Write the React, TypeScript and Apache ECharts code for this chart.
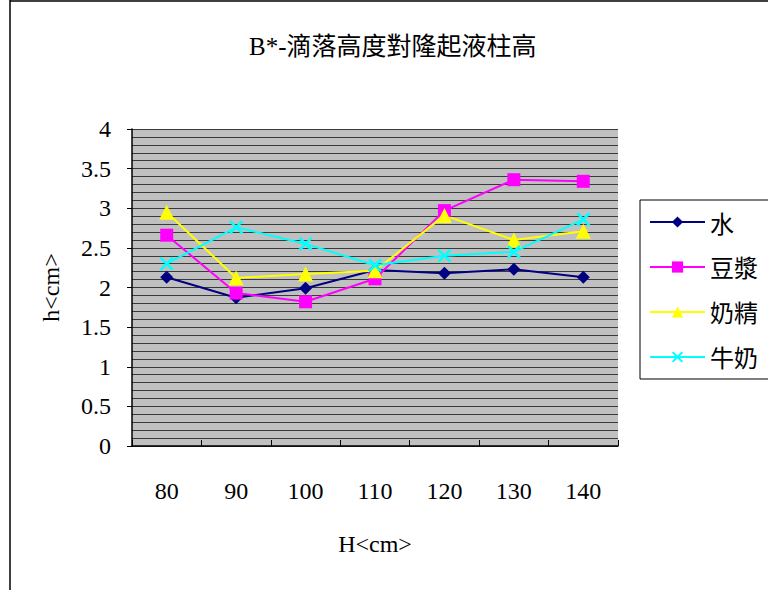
import React, { useEffect, useRef } from "react";
import * as echarts from "echarts";

const categories = ["80", "90", "100", "110", "120", "130", "140"];
const seriesNames = ["水", "豆漿", "奶精", "牛奶"];
const water = [2.13, 1.87, 1.99, 2.22, 2.18, 2.23, 2.13];
const soy = [2.66, 1.93, 1.82, 2.11, 2.97, 3.36, 3.34];
const creamer = [2.95, 2.12, 2.17, 2.21, 2.91, 2.6, 2.71];
const milk = [2.3, 2.76, 2.55, 2.28, 2.4, 2.45, 2.86];

const titleText = "B*-滴落高度對隆起液柱高";
const xName = "H<cm>";
const yName = "h<cm>";

const SERIF = "'Liberation Serif', 'Noto Sans CJK TC', serif";
const CROSS =
  "path://M0,1.3 L1.3,0 L5,3.7 L8.7,0 L10,1.3 L6.3,5 L10,8.7 L8.7,10 L5,6.3 L1.3,10 L0,8.7 L3.7,5 Z";

export default function App() {
  const ref = useRef<HTMLDivElement>(null);
  useEffect(() => {
    document.body.style.margin = "0";
    if (!ref.current) return;
    const chart = echarts.init(ref.current, null, { renderer: "svg" });
    const mk = (name: string, data: number[], color: string, symbol: string, size: number) => ({
      name,
      type: "line",
      data,
      symbol,
      symbolSize: size,
      lineStyle: { color, width: 2 },
      itemStyle: { color, borderWidth: 0 },
    });
    chart.setOption({
      animation: false,
      backgroundColor: "#ffffff",
      title: {
        text: titleText,
        left: 249,
        top: 34,
        padding: 0,
        textStyle: { fontFamily: SERIF, fontSize: 25, fontWeight: "normal", color: "#000" },
      },
      legend: {
        data: seriesNames,
        orient: "vertical",
        left: 640,
        top: 200,
        padding: [10, 80, 10, 9],
        itemGap: 21,
        itemWidth: 55,
        itemHeight: 14,
        borderColor: "#000",
        borderWidth: 1,
        textStyle: { fontFamily: "'Noto Sans CJK TC', sans-serif", fontSize: 24, color: "#000" },
      },
      graphic: [
        { type: "line", shape: { x1: 10, y1: 0, x2: 10, y2: 590 }, style: { stroke: "#000", lineWidth: 1.5 } },
        { type: "line", shape: { x1: 10, y1: 1, x2: 768, y2: 1 }, style: { stroke: "#000", lineWidth: 1.5 } },
      ],
      grid: {
        left: 132,
        top: 129,
        right: 150,
        bottom: 144,
        show: true,
        backgroundColor: "#C0C0C0",
        borderWidth: 0,
      },
      xAxis: {
        type: "category",
        data: categories,
        boundaryGap: true,
        name: xName,
        nameLocation: "middle",
        nameGap: 86,
        nameTextStyle: { fontFamily: SERIF, fontSize: 24, color: "#000" },
        axisLine: { lineStyle: { color: "#000", width: 1.5 } },
        axisTick: { show: true, inside: true, length: 6, lineStyle: { color: "#000" } },
        axisLabel: { margin: 33, fontFamily: SERIF, fontSize: 24, color: "#000" },
        splitLine: { show: false },
      },
      yAxis: {
        type: "value",
        min: 0,
        max: 4,
        interval: 0.5,
        name: yName,
        nameLocation: "middle",
        nameGap: 69,
        nameTextStyle: { fontFamily: SERIF, fontSize: 24, color: "#000" },
        axisLine: { show: true, lineStyle: { color: "#000", width: 1.5 } },
        axisTick: { show: true, inside: false, length: 5, lineStyle: { color: "#000" } },
        axisLabel: {
          margin: 21,
          fontFamily: SERIF,
          fontSize: 24,
          color: "#000",
          padding: [12, 0, 0, 0],
        },
        splitLine: { show: true, lineStyle: { color: "#3a3a3a", width: 1 } },
        minorTick: { show: false, splitNumber: 5 },
        minorSplitLine: { show: true, lineStyle: { color: "#3a3a3a", width: 1 } },
      },
      series: [
        mk(seriesNames[0], water, "#000080", "diamond", 13),
        mk(seriesNames[1], soy, "#FF00FF", "rect", 13),
        mk(seriesNames[2], creamer, "#FFFF00", "triangle", 15),
        mk(seriesNames[3], milk, "#00FFFF", CROSS, 14),
      ],
    });
    return () => chart.dispose();
  }, []);
  return <div ref={ref} style={{ width: 768, height: 590 }} />;
}
